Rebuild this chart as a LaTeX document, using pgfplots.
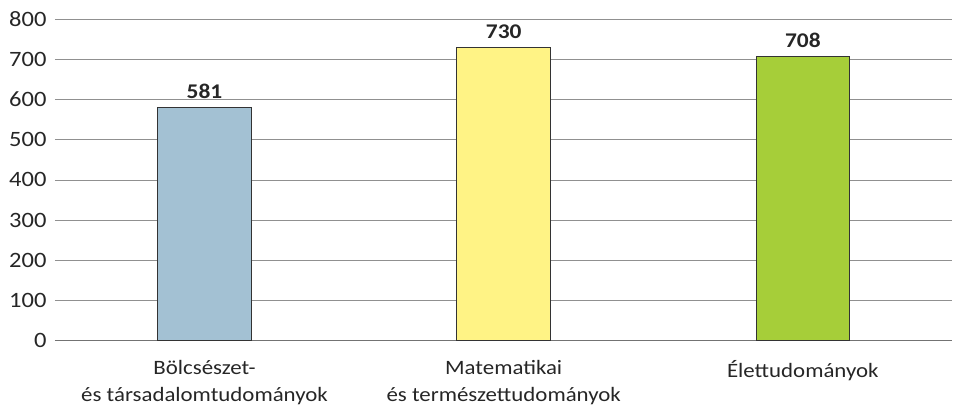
\documentclass[border=0pt]{standalone}
\usepackage{pgfplots}
\pgfplotsset{compat=1.18}
\usepackage{fontspec}
\setmainfont{Carlito}[FakeStretch=1.12]
\definecolor{cblue}{HTML}{A3C1D3}
\definecolor{cyellow}{HTML}{FFF385}
\definecolor{cgreen}{HTML}{A6CE39}
\definecolor{gridc}{HTML}{909090}
\begin{document}
\begin{tikzpicture}
\begin{axis}[
  scale only axis, width=898bp, height=322bp,
  xmin=-0.5, xmax=2.5, ymin=0, ymax=800,
  ytick={0,100,...,800},
  xtick={0,1,2},
  xticklabels={{Bölcsészet-\\és társadalomtudományok},{Matematikai\\és természettudományok},{Élettudományok}},
  xticklabel style={align=center, font=\fontsize{20.5}{27}\selectfont, text=black!85, yshift=-12bp},
  yticklabel style={font=\fontsize{22}{24}\selectfont, text=black!85, xshift=-5bp},
  /pgf/number format/assume math mode=true,
  axis x line*=bottom, axis y line*=left,
  x axis line style={draw=black!55, line width=1.2pt, -},
  y axis line style={draw=none},
  tick style={draw=none},
  ymajorgrids, major grid style={gridc, line width=0.6pt},
  ybar, bar width=0.313, bar shift=0pt,
  nodes near coords,
  nodes near coords style={font=\bfseries\fontsize{21}{24}\selectfont, text=black!85, yshift=5bp},
  clip=false,
]
\addplot[fill=cblue, draw=black!80, line width=0.8pt] coordinates {(0,581)};
\addplot[fill=cyellow, draw=black!80, line width=0.8pt] coordinates {(1,730)};
\addplot[fill=cgreen, draw=black!80, line width=0.8pt] coordinates {(2,708)};
\end{axis}
\path ([yshift=19bp]current axis.north west) ([xshift=-55bp,yshift=-71bp]current axis.south west);
\end{tikzpicture}
\end{document}
